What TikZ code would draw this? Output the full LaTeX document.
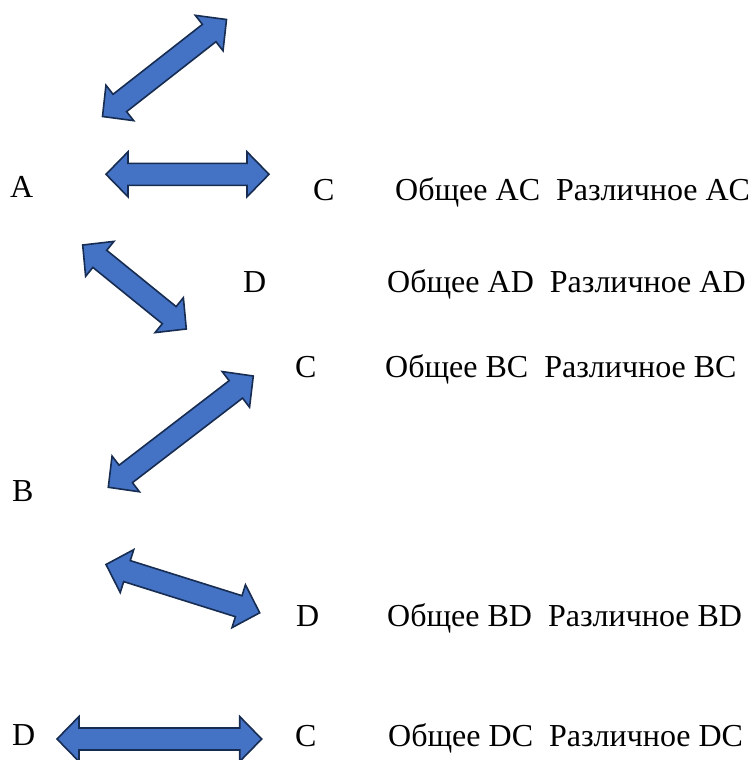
\documentclass[tikz,border=0pt]{standalone}
\usepackage{fontspec}
\setmainfont{Liberation Serif}
\usetikzlibrary{calc}
\definecolor{arrowfill}{HTML}{4472C4}
\definecolor{arrowline}{HTML}{172C51}
\newcommand{\hl}{22pt}
\newcommand{\hw}{22.5pt}
\newcommand{\sw}{11pt}
\newcommand{\dbarrow}[2]{%
  \draw[barrow] (#1)
    -- ($(#1)!\hl!(#2)!\hw!90:(#2)$)
    -- ($(#1)!\hl!(#2)!\sw!90:(#2)$)
    -- ($(#2)!\hl!(#1)!\sw!-90:(#1)$)
    -- ($(#2)!\hl!(#1)!\hw!-90:(#1)$)
    -- (#2)
    -- ($(#2)!\hl!(#1)!\hw!90:(#1)$)
    -- ($(#2)!\hl!(#1)!\sw!90:(#1)$)
    -- ($(#1)!\hl!(#2)!\sw!-90:(#2)$)
    -- ($(#1)!\hl!(#2)!\hw!-90:(#2)$)
    -- cycle;}
\begin{document}
\begin{tikzpicture}[x=1pt,y=-1pt,
  barrow/.style={fill=arrowfill,draw=arrowline,line width=1.6pt,line join=miter},
  lbl/.style={anchor=base west,inner sep=0pt,font=\fontsize{32}{38}\selectfont}]
\useasboundingbox (0,0) rectangle (753,760);
% letters
\node[lbl] (A1) at (10,197) {A};
\node[lbl] (C1) at (313,200) {C};
\node[lbl] (T1) at (395,200) {Общее AC\ \ Различное AC};
\node[lbl] (D2) at (243,292) {D};
\node[lbl] (T2) at (387,292) {Общее AD\ \ Различное AD};
\node[lbl] (C3) at (295,377) {C};
\node[lbl] (T3) at (385,377) {Общее BC\ \ Различное BC};
\node[lbl] (B4) at (12,501) {B};
\node[lbl] (D5) at (296,626) {D};
\node[lbl] (T5) at (387,626) {Общее BD\ \ Различное BD};
\node[lbl] (D6) at (12,745) {D};
\node[lbl] (C6) at (295,746) {C};
\node[lbl] (T6) at (388,746) {Общее DC\ \ Различное DC};
% arrow ends
\coordinate (a1s) at (102.5,116.5);
\coordinate (a1e) at (226.5,19.5);
\coordinate (a2s) at (106,174.3);
\coordinate (a2e) at (269,174.3);
\coordinate (a3s) at (82.7,245);
\coordinate (a3e) at (186.3,329);
\coordinate (a4s) at (108.3,487.3);
\coordinate (a4e) at (253.3,376);
\coordinate (a5s) at (106,564.5);
\coordinate (a5e) at (259.7,612.8);
\coordinate (a6s) at (57,739);
\coordinate (a6e) at (261.7,739);
\dbarrow{a1s}{a1e}
\dbarrow{a2s}{a2e}
\dbarrow{a3s}{a3e}
\dbarrow{a4s}{a4e}
\dbarrow{a5s}{a5e}
\dbarrow{a6s}{a6e}
\end{tikzpicture}
\end{document}
